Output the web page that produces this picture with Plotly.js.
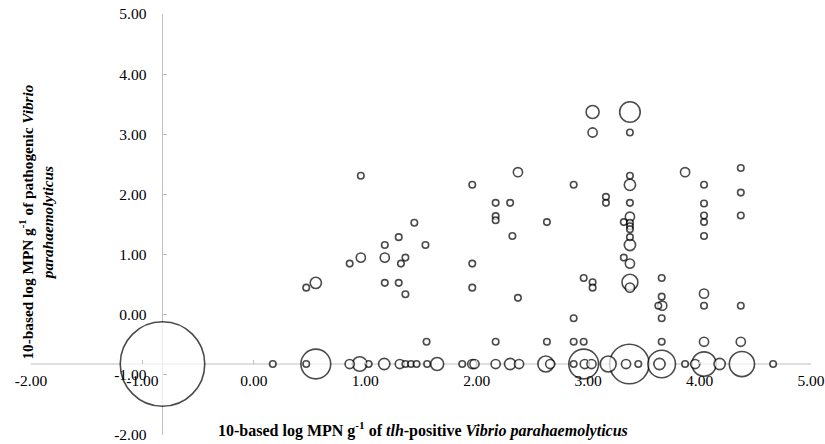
<!DOCTYPE html>
<html><head><meta charset="utf-8">
<script src="https://cdn.plot.ly/plotly-3.0.1.min.js"></script>
<style>html,body{margin:0;padding:0;background:#fff}#chart{width:825px;height:444px}</style>
</head><body><div id="chart"></div>
<script>
// x: 10-based log MPN g-1 of tlh-positive V. parahaemolyticus
const xValues = [
  0.96, 1.96, 1.44, 1.30, 1.175, 1.54, 0.96, 1.175, 0.86, 1.36, 1.32, 1.96, 0.47, 0.556, 1.175, 1.30, 1.36, 1.96,
  3.04, 3.375, 3.04, 3.375, 2.37, 2.87, 3.375, 3.375, 3.16, 3.16, 2.17, 2.30, 2.17, 2.17, 2.63, 3.375, 3.375, 3.32,
  3.375, 3.375, 3.375, 3.375, 3.375, 2.32, 3.32, 3.375, 2.96, 3.04, 3.04, 3.375, 3.375, 2.37, 2.87,
  3.87, 4.37, 4.04, 4.37, 4.04, 4.04, 4.04, 4.37, 4.04, 3.66, 3.66, 3.63, 3.665, 3.66, 4.04, 4.04, 4.37,
  1.55, 2.17, 2.63, 2.87, 2.96, 3.66, 4.04, 4.37,
  -0.82, 0.17, 0.47, 0.556, 0.86, 0.95, 1.03, 1.17, 1.31, 1.36, 1.41, 1.46, 1.555, 1.645, 1.87, 1.96, 1.98,
  2.17, 2.30, 2.38, 2.62, 2.66, 2.87, 2.96, 2.97, 3.03, 3.18, 3.37, 3.34, 3.45, 3.66, 3.64, 3.87, 3.96,
  4.04, 4.18, 4.38, 4.66
];
// y: 10-based log MPN g-1 of pathogenic V. parahaemolyticus
const yValues = [
  2.31, 2.16, 1.53, 1.29, 1.16, 1.16, 0.95, 0.95, 0.85, 0.95, 0.85, 0.85, 0.45, 0.53, 0.53, 0.53, 0.34, 0.45,
  3.37, 3.37, 3.03, 3.03, 2.37, 2.16, 2.31, 2.16, 1.96, 1.86, 1.86, 1.86, 1.64, 1.57, 1.54, 1.86, 1.63, 1.54,
  1.53, 1.47, 1.42, 1.29, 1.16, 1.31, 0.95, 0.85, 0.61, 0.54, 0.45, 0.54, 0.45, 0.28, -0.06,
  2.37, 2.44, 2.16, 2.03, 1.85, 1.65, 1.54, 1.65, 1.31, 0.61, 0.30, 0.15, 0.15, -0.06, 0.35, 0.15, 0.15,
  -0.45, -0.45, -0.45, -0.45, -0.45, -0.45, -0.45, -0.45,
  -0.82, -0.82, -0.82, -0.82, -0.82, -0.82, -0.82, -0.82, -0.82, -0.82, -0.82, -0.82, -0.82, -0.82, -0.82, -0.82, -0.82,
  -0.82, -0.82, -0.82, -0.82, -0.82, -0.82, -0.82, -0.82, -0.82, -0.82, -0.82, -0.82, -0.82, -0.82, -0.82, -0.82, -0.82,
  -0.82, -0.82, -0.82, -0.82
];
// bubble size: number of samples
const bubbleCounts = [
  1, 1, 1, 1, 1, 1, 2, 2, 1, 1, 1, 1, 1, 3, 1, 1, 1, 1,
  4, 10, 2, 1, 2, 1, 1, 3, 1, 1, 1, 1, 1, 1, 1, 1, 2, 1,
  1, 1, 1, 1, 3, 1, 1, 2, 1, 1, 1, 6, 2, 1, 1,
  2, 1, 1, 1, 1, 1, 1, 1, 1, 1, 1, 1, 2, 1, 2, 1, 1,
  1, 1, 1, 1, 1, 1, 2, 2,
  169, 1, 1, 21, 2, 5, 1, 3, 2, 1, 1, 1, 1, 4, 1, 2, 2,
  2, 3, 2, 6, 2, 1, 21, 2, 2, 6, 37, 2, 1, 18, 3, 1, 2,
  14, 3, 15, 1
];
const xTickValues = [-2, -1, 0, 1, 2, 3, 4, 5];
const xTickLabels = ['-2.00', '-1.00', '0.00', '1.00', '2.00', '3.00', '4.00', '5.00'];
const yTickValues = [-2, -1, 0, 1, 2, 3, 4, 5];
const yTickLabels = ['-2.00', '-1.00', '0.00', '1.00', '2.00', '3.00', '4.00', '5.00'];
const axisCross = -0.82;
const axisRange = [-2, 5];
const xTitle = '<b>10-based log MPN g<sup>-1</sup> of <i>tlh</i>-positive <i>Vibrio parahaemolyticus</i></b>';
const yTitle = '<b>10-based log MPN g<sup>-1</sup> of pathogenic <i>Vibrio</i></b><br><b><i>parahaemolyticus</i></b>';

// draw larger bubbles first so smaller ones remain visible
const order = xValues.map((_, i) => i).sort((a, b) => bubbleCounts[b] - bubbleCounts[a]);
const crossPos = (axisCross - axisRange[0]) / (axisRange[1] - axisRange[0]);

const trace = {
  type: 'scatter', mode: 'markers',
  x: order.map(i => xValues[i]),
  y: order.map(i => yValues[i]),
  marker: {
    size: order.map(i => bubbleCounts[i]),
    sizemode: 'area', sizeref: 1 / 21.125,
    color: '#ffffff',
    line: {color: '#000000', width: 1.6}
  },
  hoverinfo: 'skip', cliponaxis: false
};

const serif = '"Liberation Serif", "Times New Roman", serif';
const tickFont = {family: serif, size: 15.5, color: '#000'};
const axisCommon = {
  range: axisRange, anchor: 'free', position: crossPos,
  showline: false, showgrid: false, zeroline: false,
  ticks: 'inside', ticklen: 4, tickwidth: 1, tickcolor: '#bfbfbf',
  tickfont: tickFont, layer: 'above traces', fixedrange: true
};

const layout = {
  width: 825, height: 444,
  margin: {l: 31, r: 14, t: 14, b: 9},
  paper_bgcolor: '#fff', plot_bgcolor: '#fff', showlegend: false,
  font: {family: serif, color: '#000'},
  xaxis: Object.assign({}, axisCommon, {tickvals: xTickValues, ticktext: xTickLabels, ticklabelstandoff: 5}),
  yaxis: Object.assign({}, axisCommon, {tickvals: yTickValues, ticktext: yTickLabels, ticklabelstandoff: 16}),
  shapes: [
    {type: 'line', layer: 'below', xref: 'x', yref: 'y', x0: axisRange[0], x1: axisRange[1], y0: axisCross, y1: axisCross, line: {color: '#bfbfbf', width: 1}},
    {type: 'line', layer: 'below', xref: 'x', yref: 'y', x0: axisCross, x1: axisCross, y0: axisRange[0], y1: axisRange[1], line: {color: '#bfbfbf', width: 1}}
  ],
  annotations: [
    {text: xTitle, xref: 'paper', yref: 'paper', x: 0.503, y: 0.014, xanchor: 'center', yanchor: 'middle', showarrow: false,
     font: {family: serif, size: 16, color: '#000'}},
    {text: yTitle, xref: 'paper', yref: 'paper', x: 0.0064, y: 0.507, xanchor: 'center', yanchor: 'middle', showarrow: false, textangle: -90, align: 'center',
     font: {family: serif, size: 15.3, color: '#000'}}
  ]
};

Plotly.newPlot('chart', [trace], layout, {staticPlot: true, displayModeBar: false});
</script>
</body></html>
